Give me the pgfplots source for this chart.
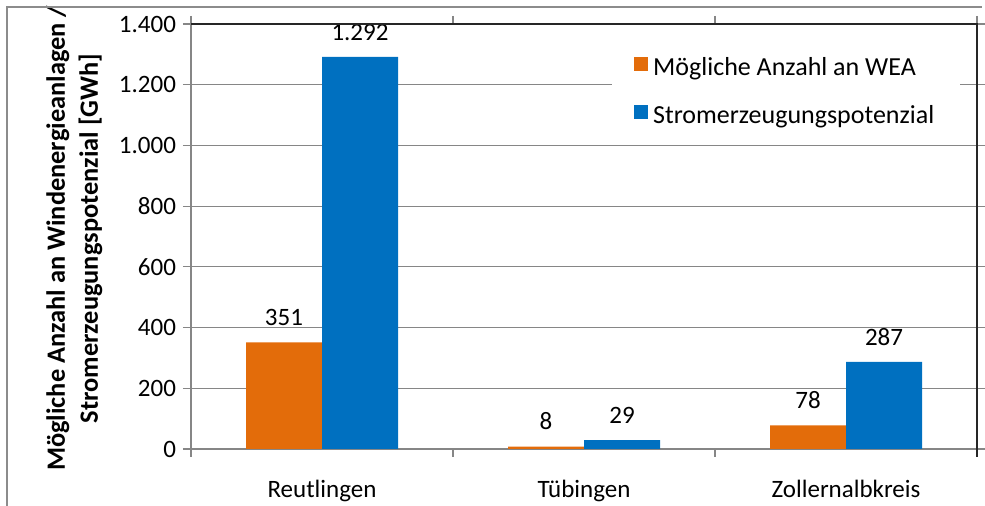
\documentclass[border=0pt]{standalone}
\usepackage{fontspec}
\setmainfont{Carlito}
\usepackage{pgfplots}
\pgfplotsset{compat=1.18}
\definecolor{weaorange}{HTML}{E36C0A}
\definecolor{stromblue}{HTML}{0070C0}
\definecolor{gridgray}{HTML}{868686}
\newcommand{\chartfont}{\fontsize{12.5}{15.5}\selectfont}

\begin{document}
\begin{tikzpicture}
\begin{axis}[
    name=ax,
    scale only axis, width=393pt, height=212.5pt,
    ybar=0pt, bar width=38pt,
    xmin=0.5, xmax=3.5, ymin=0, ymax=1400,
    ytick={0,200,...,1400},
    xtick={0.5,1.5,2.5,3.5}, xticklabels={\empty,\empty,\empty,\empty},
    extra x ticks={1,2,3},
    extra x tick labels={Reutlingen,Tübingen,Zollernalbkreis},
    extra x tick style={major tick length=0pt, grid=none,
        xticklabel style={yshift=-12pt}},
    tick align=outside, major tick length=4pt,
    ymajorgrids, grid style={gridgray, line width=0.6pt},
    axis line style={gridgray, line width=0.6pt},
    tick style={gridgray, line width=0.6pt},
    tick label style={font=\chartfont, black},
    /pgf/number format/.cd, 1000 sep={.}, assume math mode=true,
    /pgfplots/.cd,
    nodes near coords,
    nodes near coords style={font=\chartfont, black, inner sep=0pt, anchor=south, yshift=8pt},
    legend style={at={(axis description cs:0.5356,0.9506)}, anchor=north west,
        draw=none, fill=white, font=\fontsize{13}{15.5}\selectfont, row sep=9.5pt,
        inner xsep=11pt, inner ysep=4pt},
    legend cell align=left,
]
\addplot[fill=weaorange, draw=none,
    legend image code/.code={\fill[weaorange] (0pt,-1.5pt) rectangle (6.8pt,5.3pt);
        \path (7.4pt,0pt);}]
    coordinates {(1,351) (2,8) (3,78)};
\addlegendentry{Mögliche Anzahl an WEA}
\addplot[fill=stromblue, draw=none,
    legend image code/.code={\fill[stromblue] (0pt,-1.5pt) rectangle (6.8pt,5.3pt);
        \path (7.4pt,0pt);}]
    coordinates {(1,1292) (2,29) (3,287)};
\addlegendentry{Stromerzeugungspotenzial}
\end{axis}
% y axis title, two lines
\node[rotate=90, anchor=base, inner sep=0pt, font=\fontsize{13.2}{16}\selectfont\bfseries]
    at (-63pt,105.25pt) {Mögliche Anzahl an Windenergieanlagen /};
\node[rotate=90, anchor=base, inner sep=0pt, font=\fontsize{13.2}{16}\selectfont\bfseries]
    at (-46.5pt,105.25pt) {Stromerzeugungspotenzial [GWh]};
\draw[black!85, line width=0.6pt] (ax.north west) -- (ax.north east) -- (ax.south east) -- ++(0,-4pt);
\draw[black!45, line width=0.7pt] (-92pt,-28.5pt) -- (-92pt,221pt) -- (395.5pt,221pt);
\pgfresetboundingbox
\path (-95.5pt,-28.5pt) rectangle (397pt,224.5pt);
\end{tikzpicture}
\end{document}
